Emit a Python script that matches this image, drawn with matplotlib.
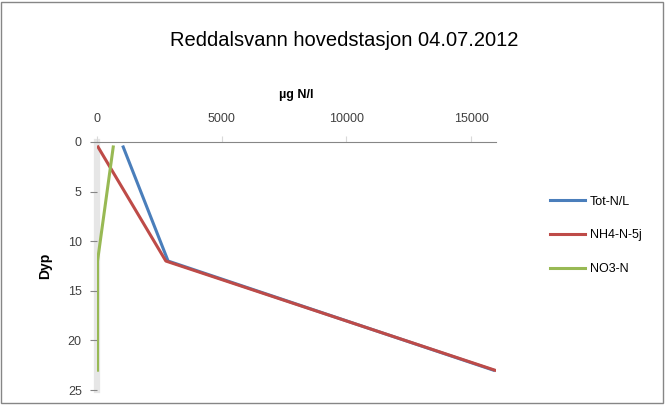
import matplotlib.pyplot as plt
from matplotlib.patches import Rectangle

dyp = [0.5, 12, 23]
tot_n = [1050, 2850, 15900]
nh4_n = [40, 2760, 15950]
no3_n = [650, 20, 20]

plt.rcParams['font.family'] = ['Liberation Sans', 'DejaVu Sans']
fig = plt.figure(figsize=(6.65, 4.05), dpi=100)
ax = fig.add_axes([0.1459, 0.037, 0.6, 0.6124])

ax.plot(tot_n, dyp, color='#4a7ebb', lw=2.2, label='Tot-N/L', zorder=3)
ax.plot(nh4_n, dyp, color='#be4b48', lw=2.2, label='NH4-N-5j', zorder=3)
ax.plot(no3_n, dyp, color='#98b954', lw=2.2, label='NO3-N', zorder=3)

ax.set_xlim(0, 16000)
ax.set_ylim(25, 0)
ax.set_xticks([0, 5000, 10000, 15000])
ax.set_yticks([0, 5, 10, 15, 20, 25])
ax.xaxis.tick_top()
ax.xaxis.set_label_position('top')
ax.set_xlabel('µg N/l', fontsize=9, fontweight='bold', labelpad=11)
ax.set_ylabel('Dyp', fontsize=10, fontweight='bold', labelpad=11)
ax.tick_params(axis='x', length=4, color='#d9d9d9', labelsize=9, labelcolor='#404040', pad=8)
ax.tick_params(axis='y', length=5, color='#868686', labelsize=9, labelcolor='#404040', pad=6)
for s in ['right', 'bottom']:
    ax.spines[s].set_visible(False)
ax.spines['top'].set_color('#868686')
ax.spines['left'].set_color('#e6e6e6')
ax.spines['left'].set_linewidth(4.5)
ax.spines['left'].set_zorder(1)

fig.text(0.517, 0.9, 'Reddalsvann hovedstasjon 04.07.2012', ha='center', va='center', fontsize=14.5)
fig.legend(loc='upper left', bbox_to_anchor=(0.81, 0.545), frameon=False, fontsize=9,
           handlelength=2.8, labelspacing=1.75, handletextpad=0.4)
fig.patches.append(Rectangle((0.002, 0.004), 0.995, 0.992, transform=fig.transFigure,
                             fill=False, edgecolor='#868686', lw=1))
fig.savefig('out.png')
